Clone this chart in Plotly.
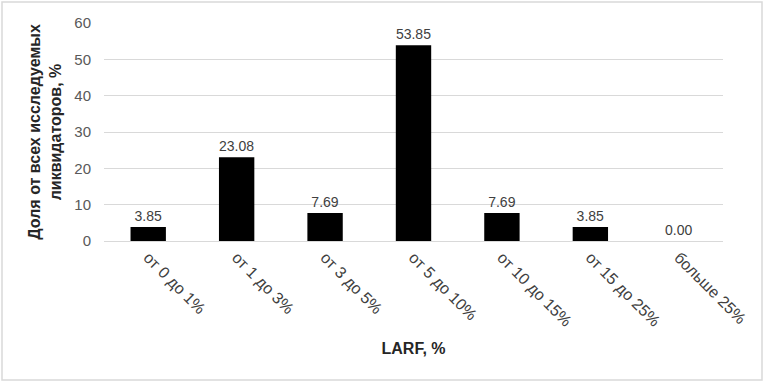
import plotly.graph_objects as go

categories = ["от 0 до 1%", "от 1 до 3%", "от 3 до 5%", "от 5 до 10%",
              "от 10 до 15%", "от 15 до 25%", "больше 25%"]
values = [3.85, 23.08, 7.69, 53.85, 7.69, 3.85, 0.00]
y_ticks = [0, 10, 20, 30, 40, 50, 60]

W, H = 764, 382
L, R, T, B = 104, 41, 23, 141

fig = go.Figure(go.Bar(
    x=categories, y=values,
    marker=dict(color="black", line=dict(width=0)),
    text=[f"{v:.2f}" for v in values],
    textposition="outside",
    textfont=dict(family="Liberation Sans, Arial", size=14, color="#404040"),
    cliponaxis=False,
    width=0.4,
))

pw, ph = W - L - R, H - T - B
fig.add_shape(type="rect", xref="paper", yref="paper",
              x0=(2 - L) / pw, x1=(W - 2 - L) / pw,
              y0=(H - B - (H - 2)) / ph, y1=(H - B - 2) / ph,
              line=dict(color="#d9d9d9", width=1.5), layer="below")

fig.update_layout(
    width=W, height=H,
    margin=dict(l=L, r=R, t=T, b=B),
    paper_bgcolor="white", plot_bgcolor="white",
    showlegend=False,
    font=dict(family="Liberation Sans, Arial", color="#595959"),
    xaxis=dict(
        tickangle=45,
        tickfont=dict(size=16, color="#404040"),
        showline=True, linecolor="#d9d9d9", linewidth=1,
        ticks="", showgrid=False,
        title=dict(text="<b>LARF, %</b>", font=dict(size=16, color="#262626"), standoff=14),
    ),
    yaxis=dict(
        range=[0, 60], tickvals=y_ticks,
        tickfont=dict(size=15, color="#595959"),
        ticklabelstandoff=12,
        showgrid=True, gridcolor="#d9d9d9", gridwidth=1,
        zeroline=False, ticks="", ticklen=0,
        title=dict(text="<b>Доля от всех исследуемых<br>ликвидаторов, %</b>",
                   font=dict(size=16, color="#262626"), standoff=8),
    ),
)

fig.write_html("out.html", post_script="document.body.style.margin='0';",
               config={"displayModeBar": False})
